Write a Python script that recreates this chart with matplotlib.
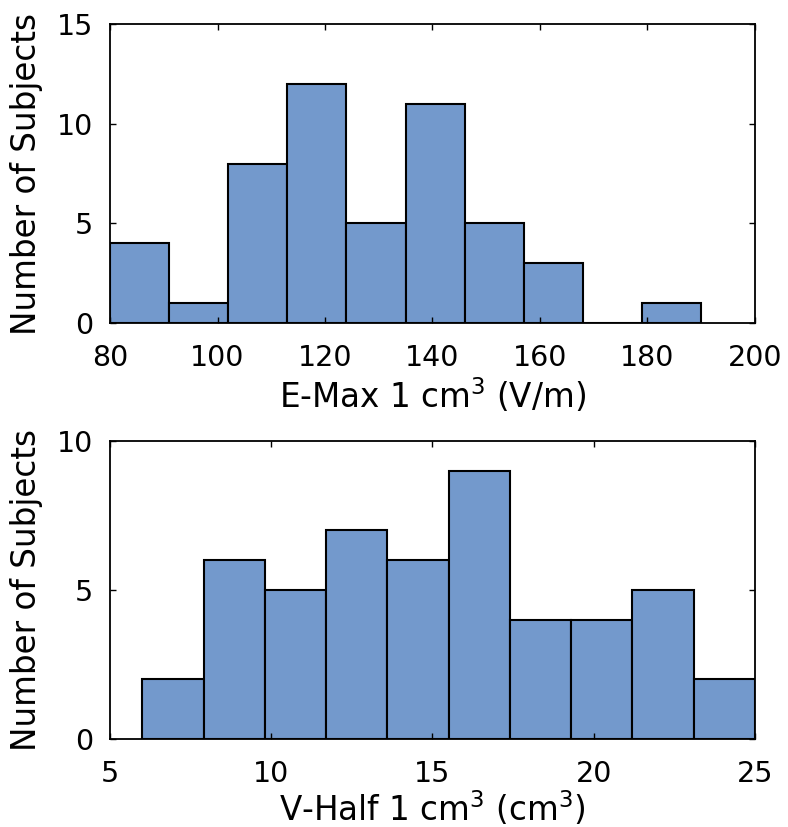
import matplotlib.pyplot as plt
import numpy as np

# E-Max histogram (bin edges and counts)
emax_edges = [80, 91, 102, 113, 124, 135, 146, 157, 168, 179, 190]
emax_counts = [4, 1, 8, 12, 5, 11, 5, 3, 0, 1]

# V-Half histogram
vhalf_edges = [6.0, 7.9, 9.8, 11.7, 13.6, 15.5, 17.4, 19.3, 21.2, 23.1, 25.0]
vhalf_counts = [2, 6, 5, 7, 6, 9, 4, 4, 5, 2]

bar_color = '#7399cc'

plt.rcParams['font.family'] = 'DejaVu Sans'

fig = plt.figure(figsize=(7.88, 8.27), dpi=100)
ax1 = fig.add_axes([0.1396, 0.6094, 0.8185, 0.3616])
ax2 = fig.add_axes([0.1396, 0.1064, 0.8185, 0.3603])


def draw_hist(ax, edges, counts, xlim, ylim, xticks, yticks, xlabel, labelpad):
    edges = np.array(edges)
    ax.bar(edges[:-1], counts, width=np.diff(edges), align='edge',
           color=bar_color, edgecolor='black', linewidth=1.5)
    ax.set_xlim(*xlim)
    ax.set_ylim(*ylim)
    ax.set_xticks(xticks)
    ax.set_yticks(yticks)
    ax.tick_params(direction='in', top=True, right=True, length=4,
                   width=1, labelsize=20.5, pad=12)
    ax.tick_params(axis='x', pad=15)
    for s in ax.spines.values():
        s.set_linewidth(1.3)
    ax.set_xlabel(xlabel, fontsize=23.5, labelpad=labelpad)
    ax.set_ylabel('Number of Subjects', fontsize=23.5, labelpad=10)


draw_hist(ax1, emax_edges, emax_counts, (80, 200), (0, 15),
          [80, 100, 120, 140, 160, 180, 200], [0, 5, 10, 15],
          r'E-Max 1 cm$^3$ (V/m)', 3)
draw_hist(ax2, vhalf_edges, vhalf_counts, (5, 25), (0, 10),
          [5, 10, 15, 20, 25], [0, 5, 10],
          r'V-Half 1 cm$^3$ (cm$^3$)', 1)

fig.savefig('out.png', dpi=100)
